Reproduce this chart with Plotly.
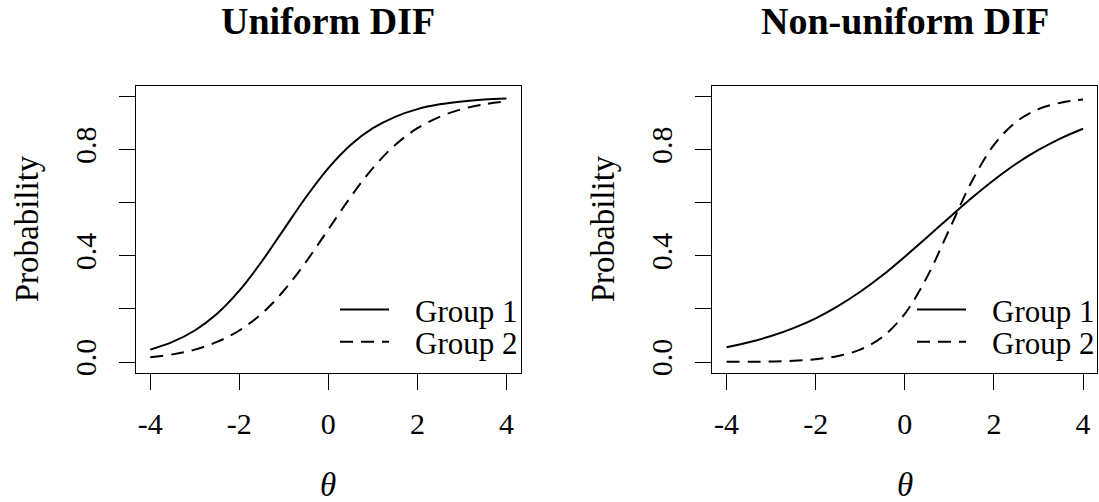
import plotly.graph_objects as go

W, H = 1099, 502

# ---- data ----
theta = [-4, -3.5, -3, -2.5, -2, -1.5, -1, -0.5, 0, 0.5, 1, 1.5, 2, 2.5, 3, 3.5, 4]

uniform_g1 = [0.047, 0.076, 0.119, 0.182, 0.269, 0.378, 0.500, 0.622, 0.731,
              0.818, 0.881, 0.924, 0.953, 0.971, 0.982, 0.989, 0.993]
uniform_g2 = [0.018, 0.029, 0.047, 0.076, 0.119, 0.182, 0.269, 0.378, 0.500,
              0.622, 0.731, 0.818, 0.881, 0.924, 0.953, 0.971, 0.982]

nonuniform_g1 = [0.056, 0.075, 0.098, 0.128, 0.165, 0.211, 0.265, 0.327, 0.397,
                 0.470, 0.545, 0.618, 0.686, 0.747, 0.799, 0.843, 0.879]
nonuniform_g2 = [0.001, 0.001, 0.002, 0.005, 0.011, 0.023, 0.047, 0.095, 0.182,
                 0.321, 0.500, 0.679, 0.818, 0.905, 0.953, 0.977, 0.989]

panel_titles = ["Uniform DIF", "Non-uniform DIF"]
group_labels = ["Group 1", "Group 2"]
x_ticks = [-4, -2, 0, 2, 4]
x_tick_text = ["-4", "-2", "0", "2", "4"]
y_ticks = [0.0, 0.2, 0.4, 0.6, 0.8, 1.0]
y_tick_text = ["0.0", "", "0.4", "", "0.8", ""]

FONT = "Liberation Serif"
DASH = "13px,8px"


def px(x):
    return x / W


def py(y):
    return 1 - y / H


# plot boxes in pixels
left_box = (136, 520.7)
right_box = (712.3, 1097.3)
top, bottom = 86.7, 375.7

fig = go.Figure()

series = [
    (uniform_g1, "solid", "x", "y"),
    (uniform_g2, DASH, "x", "y"),
    (nonuniform_g1, "solid", "x2", "y2"),
    (nonuniform_g2, DASH, "x2", "y2"),
]
for vals, dash, xa, ya in series:
    fig.add_trace(go.Scatter(
        x=theta, y=vals, mode="lines", xaxis=xa, yaxis=ya,
        line=dict(color="black", width=2, dash=dash, shape="spline", smoothing=1),
        showlegend=False, hoverinfo="skip"))

xaxis_common = dict(
    range=[-4.32, 4.32], tickvals=x_ticks, ticktext=x_tick_text,
    ticks="outside", ticklen=16, tickwidth=1, tickcolor="black",
    showline=True, mirror=True, linecolor="black", linewidth=1,
    showgrid=False, zeroline=False,
    tickfont=dict(family=FONT, size=30, color="black"),
    ticklabelstandoff=8,
)
yaxis_common = dict(
    range=[-0.04, 1.04], tickvals=y_ticks, ticktext=y_tick_text,
    ticks="outside", ticklen=16, tickwidth=1, tickcolor="black",
    showline=True, mirror=True, linecolor="black", linewidth=1,
    showgrid=False, zeroline=False, tickangle=-90,
    tickfont=dict(family=FONT, size=30, color="black"),
    ticklabelstandoff=11,
)

fig.update_layout(
    width=W, height=H,
    margin=dict(l=0, r=0, t=0, b=0),
    paper_bgcolor="white", plot_bgcolor="white",
    xaxis=dict(domain=[px(left_box[0]), px(left_box[1])], anchor="y", **xaxis_common),
    yaxis=dict(domain=[py(bottom), py(top)], anchor="x", **yaxis_common),
    xaxis2=dict(domain=[px(right_box[0]), px(right_box[1])], anchor="y2", **xaxis_common),
    yaxis2=dict(domain=[py(bottom), py(top)], anchor="x2", **yaxis_common),
)

annotations = []
shapes = []
for i, (box, title) in enumerate(zip([left_box, right_box], panel_titles)):
    cx = (box[0] + box[1]) / 2
    annotations.append(dict(
        text="<b>" + title + "</b>", x=px(cx), y=py(21), xref="paper", yref="paper",
        xanchor="center", yanchor="middle", showarrow=False,
        font=dict(family=FONT, size=38, color="black")))
    annotations.append(dict(
        text="<i>θ</i>", x=px(cx), y=py(489), xref="paper", yref="paper",
        xanchor="center", yanchor="middle", showarrow=False,
        font=dict(family=FONT, size=33, color="black")))
    ylab_x = 27 if i == 0 else 603
    annotations.append(dict(
        text="Probability", x=px(ylab_x), y=py((top + bottom) / 2), xref="paper", yref="paper",
        xanchor="center", yanchor="middle", textangle=-90, showarrow=False,
        font=dict(family=FONT, size=33, color="black")))

# legends (no box), drawn per panel
legend_pos = [(340, 389, 413), (917, 966, 990)]
legend_rows = [(312, 314, "solid"), (344.5, 346, DASH)]
for (lx0, lx1, tx) in legend_pos:
    for (ly, ty, dash), label in zip(legend_rows, group_labels):
        shapes.append(dict(type="line", xref="paper", yref="paper",
                           x0=px(lx0), x1=px(lx1), y0=py(ly), y1=py(ly),
                           line=dict(color="black", width=2,
                                     dash=dash)))
        annotations.append(dict(
            text=label, x=px(tx), y=py(ty), xref="paper", yref="paper",
            xanchor="left", yanchor="middle", showarrow=False,
            font=dict(family=FONT, size=31, color="black")))

fig.update_layout(annotations=annotations, shapes=shapes)
fig.write_html("out.html")
